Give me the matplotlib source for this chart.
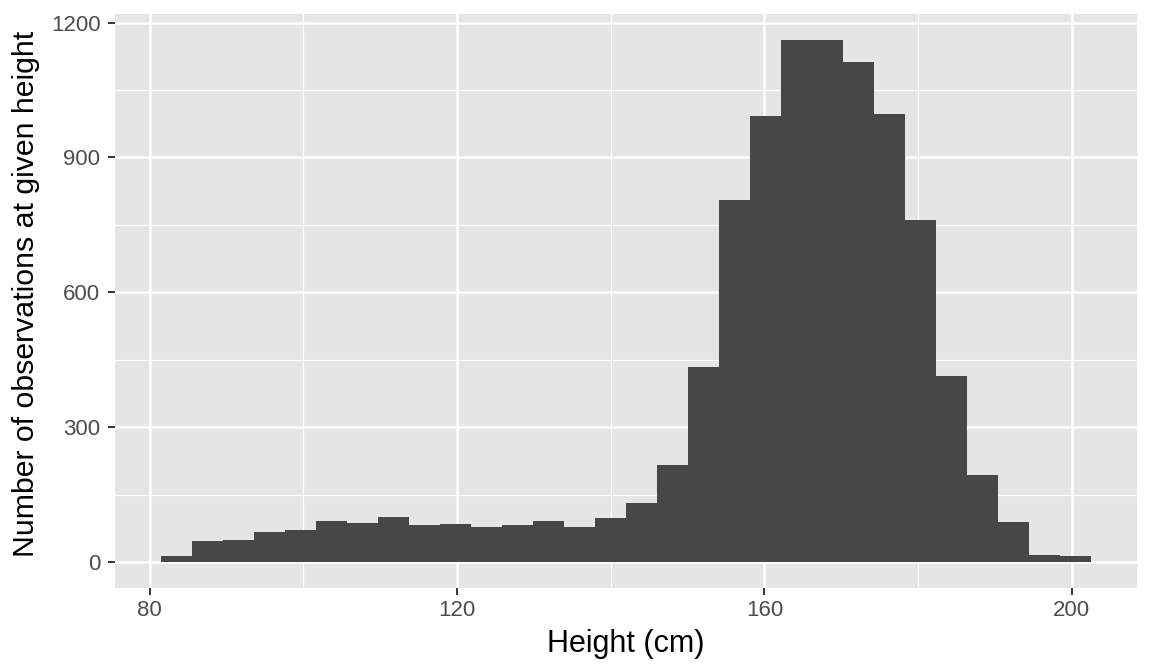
import matplotlib
matplotlib.use('Agg')
import matplotlib.pyplot as plt
import numpy as np

### histogram counts (30 bins)
bin_start = 81.52
bin_width = 4.031
counts = [13, 46, 48, 66, 71, 91, 86, 100, 82, 84,
          78, 82, 91, 78, 98, 131, 216, 433, 806, 992,
          1161, 1161, 1112, 996, 760, 414, 193, 88, 15, 13]
x_ticks = [80, 120, 160, 200]
x_minor = [100, 140, 180]
y_ticks = [0, 300, 600, 900, 1200]
y_minor = [150, 450, 750, 1050]

plt.rcParams['font.family'] = ['Liberation Sans', 'DejaVu Sans']

edges = bin_start + bin_width * np.arange(len(counts))
xmin, xmax = edges[0], edges[-1] + bin_width
xpad = 0.05 * (xmax - xmin)
ypad = 0.05 * max(counts)

fig = plt.figure(figsize=(11.52, 6.72), dpi=100)
ax = fig.add_axes([0.0998, 0.125, 0.8872, 0.854])
ax.set_facecolor('#E5E5E5')
for s in ax.spines.values():
    s.set_visible(False)

for v in x_minor:
    ax.axvline(v, color='white', lw=0.9, zorder=0)
for v in y_minor:
    ax.axhline(v, color='white', lw=0.9, zorder=0)
for v in x_ticks:
    ax.axvline(v, color='white', lw=1.8, zorder=0)
for v in y_ticks:
    ax.axhline(v, color='white', lw=1.8, zorder=0)

ax.bar(edges, counts, width=bin_width, align='edge', color='#474747', lw=0, zorder=2)

ax.set_xlim(xmin - xpad, xmax + xpad)
ax.set_ylim(-ypad, max(counts) + ypad)
ax.set_xticks(x_ticks)
ax.set_yticks(y_ticks)
ax.tick_params(axis='both', length=5, width=1.4, color='#333333',
               labelcolor='#4D4D4D', labelsize=16)
ax.tick_params(axis='x', pad=4)
ax.tick_params(axis='y', pad=5.5)

ax.set_xlabel('Height (cm)', fontsize=22)
ax.set_ylabel('Number of observations at given height', fontsize=21.8)
ax.xaxis.set_label_coords(0.5, -0.072)
ax.yaxis.set_label_coords(-0.073, 0.513)

fig.savefig('out.png', dpi=100)
